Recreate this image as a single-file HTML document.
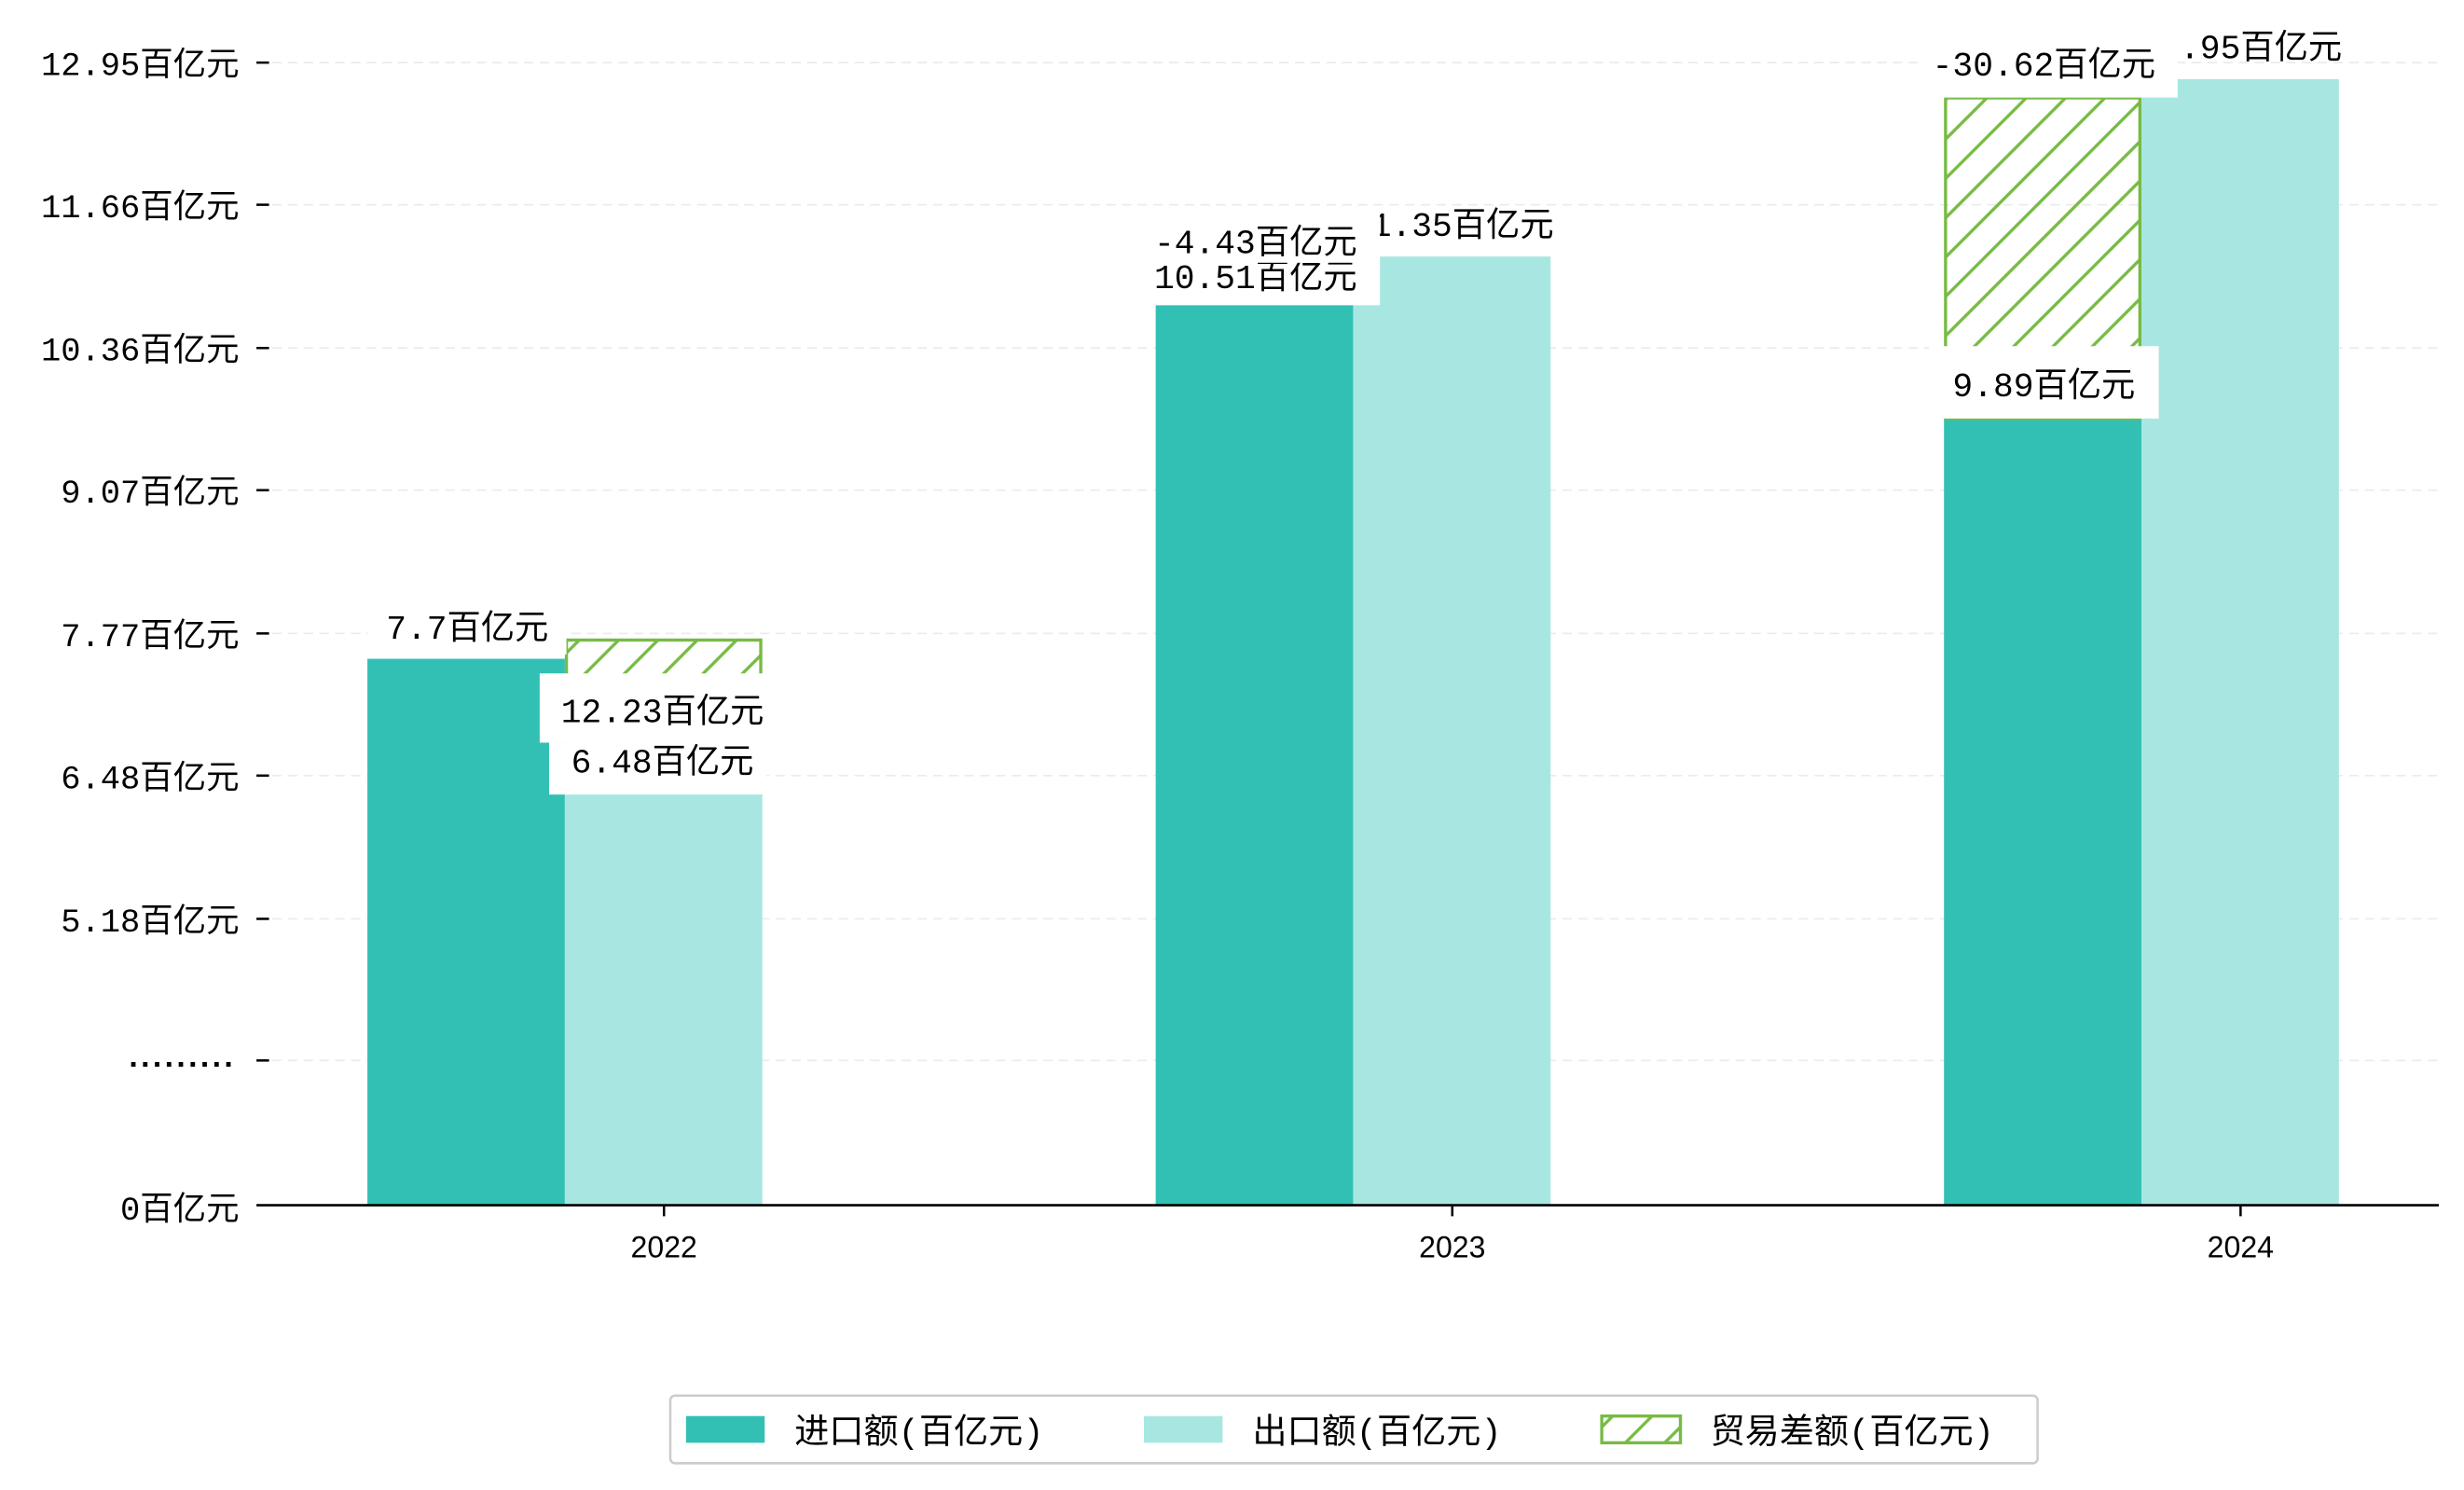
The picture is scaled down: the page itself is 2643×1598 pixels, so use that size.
<!DOCTYPE html>
<html><head><meta charset="utf-8"><style>
html,body{margin:0;padding:0;background:#fff;}
svg{display:block;font-family:"Liberation Mono","Noto Sans CJK SC",sans-serif;}
</style></head><body>
<svg id="chart" width="2643" height="1598" viewBox="0 0 1566 947" preserveAspectRatio="none" xmlns="http://www.w3.org/2000/svg">
<defs>
<pattern id="hatch" patternUnits="userSpaceOnUse" width="25" height="25">
<line x1="0" y1="25" x2="25" y2="0" stroke="#77bb44" stroke-width="2"/>
<line x1="-5" y1="5" x2="5" y2="-5" stroke="#77bb44" stroke-width="2"/>
<line x1="20" y1="30" x2="30" y2="20" stroke="#77bb44" stroke-width="2"/>
</pattern>
</defs>
<g id="grid"></g>
<g id="bars"></g>
<g id="labels"></g>
<g id="axes"></g>
<g id="legend"></g>
</svg>
<script>
const categories = ['2022', '2023', '2024'];
const importValues = [7.54, 10.75, 9.72];
const exportValues = [6.31, 11.19, 12.80];
const balanceTop = [7.71, null, 12.63];
const tickValues = [5.18, 6.48, 7.77, 9.07, 10.36, 11.66, 12.95];
const tickLabels = ['5.18百亿元', '6.48百亿元', '7.77百亿元', '9.07百亿元', '10.36百亿元', '11.66百亿元', '12.95百亿元'];
const importLabels = ['7.7百亿元', '10.51百亿元', '9.89百亿元'];
const exportLabels = ['6.48百亿元', '11.35百亿元', '12.95百亿元'];
const balanceLabels = ['12.23百亿元', '-4.43百亿元', '-30.62百亿元'];

const NS = 'http://www.w3.org/2000/svg';
const X0 = 163, X1 = 1550, Y0 = 766;
function y(v){ return v <= 0 ? Y0 : 584 - (v - 5.18) * 70.04; }
function xc(i){ return 422 + i * 501; }
const BW = 125.5;
function mk(tag, attrs, parent, text){
  const e = document.createElementNS(NS, tag);
  for (const k in attrs) e.setAttribute(k, attrs[k]);
  if (text !== undefined) e.textContent = text;
  parent.appendChild(e);
  return e;
}
const grid = document.getElementById('grid'), bars = document.getElementById('bars'),
      labels = document.getElementById('labels'), axes = document.getElementById('axes'),
      legend = document.getElementById('legend');

const allTickY = [674].concat(tickValues.map(y));
allTickY.forEach(function(ty){
  const g = mk('line', {x1:X0, x2:X1, y1:ty, y2:ty, stroke:'#ebebeb', 'stroke-width':1, 'stroke-dasharray':'6,4'}, grid);
  
  
  const t = mk('line', {x1:163, x2:171, y1:ty, y2:ty, stroke:'#000', 'stroke-width':1.5}, axes);
  
  
});
tickValues.forEach(function(v, i){
  const t = mk('text', {x:152, y:y(v)+8, 'text-anchor':'end', 'font-size':21, fill:'#000'}, axes, tickLabels[i]);
  
  
});
let tb = mk('text', {x:150, y:678, 'text-anchor':'end', 'font-size':20, 'letter-spacing':2, fill:'#000', style:'font-family:"Liberation Sans",sans-serif;font-weight:bold'}, axes, '.........');


tb = mk('text', {x:152, y:775, 'text-anchor':'end', 'font-size':21, fill:'#000'}, axes, '0百亿元');


const xa = mk('line', {x1:X0, x2:X1, y1:Y0, y2:Y0, stroke:'#000', 'stroke-width':1.5}, axes);



categories.forEach(function(c, i){
  const cx = xc(i);
  const ix = cx - 63 - BW, ex = cx - 63;
  const r1 = mk('rect', {x:ix, y:y(importValues[i]), width:BW, height:Y0 - y(importValues[i]), fill:'#32c0b4'}, bars);
  
  
  if (balanceTop[i] !== null){
    const low = Math.min(importValues[i], exportValues[i]);
    const hx = importValues[i] <= exportValues[i] ? ix : ex;
    const hb = mk('rect', {x:hx+1, y:y(balanceTop[i]), width:BW-2, height:y(low) - y(balanceTop[i]), fill:'url(#hatch)', stroke:'#77bb44', 'stroke-width':2}, bars);
    
    
  }
  const r2 = mk('rect', {x:ex, y:y(exportValues[i]), width:BW, height:Y0 - y(exportValues[i]), fill:'#a8e7e1'}, bars);
  
  
  const tk = mk('line', {x1:cx, x2:cx, y1:Y0, y2:Y0+7, stroke:'#000', 'stroke-width':1.5}, axes);
  
  
  const tl = mk('text', {x:cx, y:799, 'text-anchor':'middle', 'font-size':19, fill:'#000', style:'font-family:"Liberation Sans",sans-serif'}, axes, c);
  
  
});

function lab(txt, cx, ty, box, name){
  if (box){
    const b = mk('rect', {x:box[0], y:box[1], width:box[2], height:box[3], fill:'#fff'}, labels);
    
    
  }
  const t = mk('text', {x:cx, y:ty, 'text-anchor':'middle', 'font-size':21.5, fill:'#000'}, labels, txt);
  
  
}
lab(importLabels[0], 297, 406, [234,382,126,34], 'import-label-2022');
lab(balanceLabels[0], 421, 459, [343,428,146,44], 'balance-label-2022');
lab(exportLabels[0], 421, 491, [349,472,138,33], 'export-label-2022');
lab(exportLabels[1], 923, 150, null, 'export-label-2023');
lab(importLabels[1], 798, 183, [725,160,152,34], 'import-label-2023');
lab(balanceLabels[1], 798, 161, [725,134,152,33], 'balance-label-2023');
lab(exportLabels[2], 1424, 37, null, 'export-label-2024');
lab(importLabels[2], 1299, 252, [1226,220,146,46], 'import-label-2024');
lab(balanceLabels[2], 1299, 48, [1220,20,164,42], 'balance-label-2024');

const lb = mk('rect', {x:426, y:887, width:869, height:43, rx:3, fill:'#fff', stroke:'#ccc', 'stroke-width':1.5}, legend);


const leg = [['#32c0b4', 436, '进口额(百亿元)', 'import'], ['#a8e7e1', 727, '出口额(百亿元)', 'export'], ['url(#hatch)', 1018, '贸易差额(百亿元)', 'balance']];
leg.forEach(function(l){
  const sw = mk('rect', {x:l[1], y:900, width:50, height:17, fill:l[0], stroke: l[3]==='balance' ? '#77bb44' : 'none', 'stroke-width':2}, legend);
  
  
  const t = mk('text', {x:l[1]+69, y:917, 'font-size':22, fill:'#000'}, legend, l[2]);
  
  
});
</script>
</body></html>
